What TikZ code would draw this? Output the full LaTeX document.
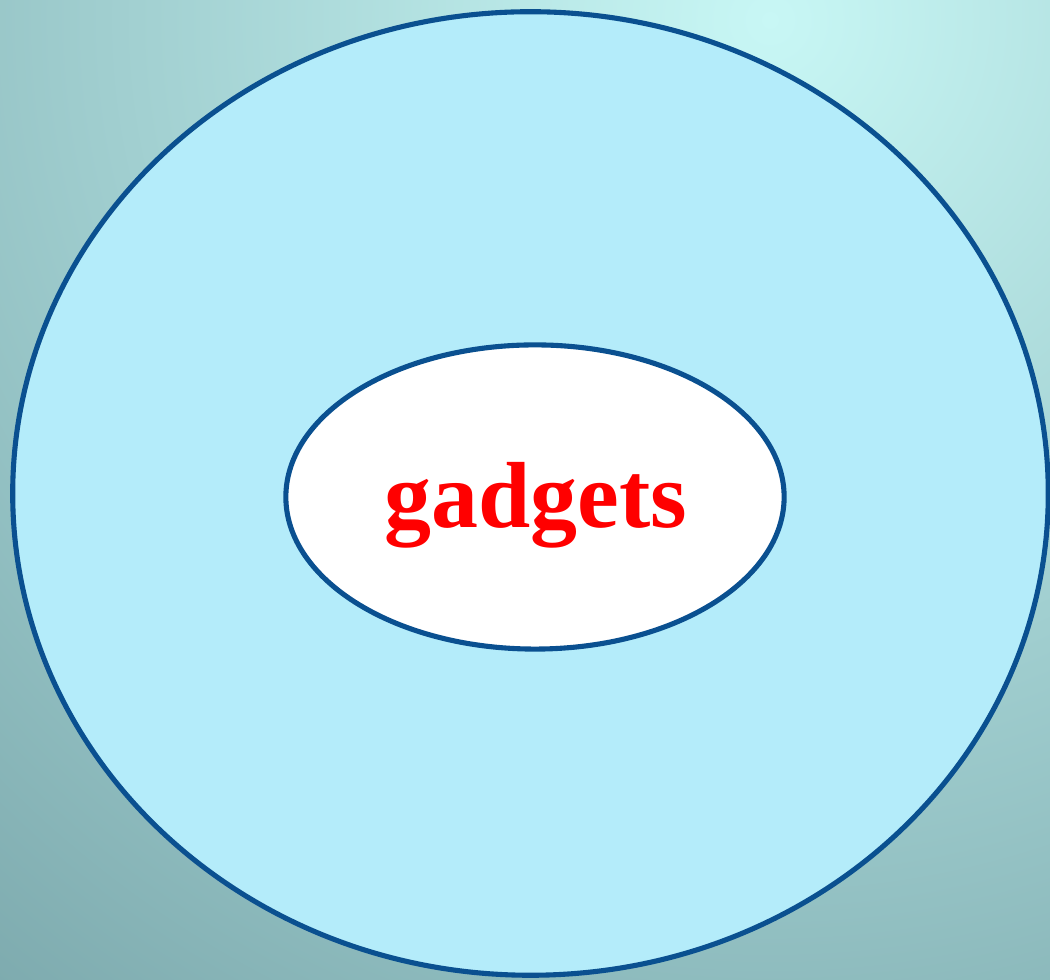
\documentclass[tikz,border=0pt]{standalone}
\usepackage{fontspec}
\setmainfont{Liberation Serif}
\usetikzlibrary{shapes.geometric}
\definecolor{bgin}{HTML}{C8F7F5}
\definecolor{bgout}{HTML}{7AA7AB}
\definecolor{ringfill}{HTML}{B4ECFA}
\definecolor{ringline}{HTML}{0A5090}
\definecolor{textred}{HTML}{FF0000}
\tikzset{
  ringshape/.style={ellipse, draw=ringline, line width=1.45pt, inner sep=0pt},
  label/.style={font=\fontsize{26.7pt}{30pt}\selectfont\bfseries, text=textred, inner sep=0pt}
}
\begin{document}
\begin{tikzpicture}[x=0.01cm,y=-0.01cm]
\useasboundingbox (0,0) rectangle (1050,980);
\begin{scope}
\clip (0,0) rectangle (1050,980);
\shade[inner color=bgin, outer color=bgout] (770,20) circle (1300);
\end{scope}
\node[ringshape, fill=ringfill, minimum width=10.35cm, minimum height=9.63cm] (outer) at (530.5,493.5) {};
\node[ringshape, fill=white, minimum width=4.98cm, minimum height=3.04cm] (inner) at (535,497) {};
\node[label, anchor=base] (txt) at (536,528) {gadgets};
\end{tikzpicture}
\end{document}
